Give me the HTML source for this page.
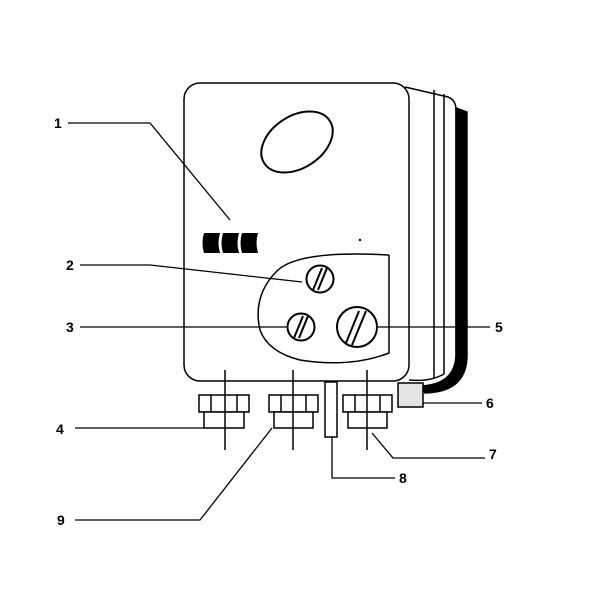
<!DOCTYPE html><html><head><style>body{margin:0;background:#fff}svg{display:block}text{font-family:"Liberation Sans",sans-serif;font-weight:bold;font-size:14px}</style></head><body>
<svg width="600" height="600" viewBox="0 0 600 600" fill="none" stroke="#000" stroke-width="1.5">
<!-- right side -->
<path d="M405 87 L448 97 Q456 100 456 110 L456 355" />
<path d="M456 108 L467 112 L467 355 Q467 392 425 393 L420 386 Q455 385 456 355 Z" fill="#000"/>
<line x1="434" y1="90" x2="434" y2="378"/>
<line x1="444" y1="94" x2="444" y2="374"/>
<path d="M409 380 Q430 382 444 374"/>
<!-- body -->
<rect x="184" y="83" width="225" height="298" rx="16" fill="#fff"/>
<ellipse cx="297" cy="142" rx="39" ry="26" transform="rotate(-33 297 142)" stroke-width="2"/>
<g fill="#000" stroke="none">
<path d="M204 233 h16 q-3 10 0 20 h-16 q-3 -10 0 -20z"/>
<path d="M223 233 h16 q-3 10 0 20 h-16 q-3 -10 0 -20z"/>
<path d="M242 233 h16 q-3 10 0 20 h-16 q-3 -10 0 -20z"/>
<circle cx="360" cy="240" r="1.2"/>
</g>
<path d="M389 255 L389 353 Q350 368 300 360 Q268 352 260 330 Q252 295 278 270 Q300 250 389 255" fill="#fff"/>
<g stroke-width="2">
<circle cx="320" cy="279" r="13.5"/><line x1="313" y1="290" x2="322" y2="268"/><line x1="318" y1="290" x2="327" y2="268"/>
<circle cx="301" cy="327" r="13.5"/><line x1="294" y1="338" x2="303" y2="316"/><line x1="299" y1="338" x2="308" y2="316"/>
<circle cx="357" cy="327" r="20"/><line x1="346" y1="343" x2="359" y2="311"/><line x1="352" y1="345" x2="366" y2="311"/>
</g>
<!-- glands -->
<g fill="#fff">
<rect x="199" y="395" width="50" height="17"/><rect x="204" y="412" width="40" height="16"/>
<line x1="211" y1="395" x2="211" y2="412"/><line x1="237" y1="395" x2="237" y2="412"/>
<rect x="269" y="395" width="49" height="17"/><rect x="274" y="412" width="39" height="16"/>
<line x1="281" y1="395" x2="281" y2="412"/><line x1="306" y1="395" x2="306" y2="412"/>
<rect x="343" y="395" width="49" height="17"/><rect x="348" y="412" width="39" height="16"/>
<line x1="355" y1="395" x2="355" y2="412"/><line x1="380" y1="395" x2="380" y2="412"/>
<rect x="325" y="382" width="12" height="55"/>
<rect x="398" y="383" width="25" height="24" fill="#e4e4e4"/>
</g>
<line x1="225" y1="370" x2="225" y2="450"/><line x1="293" y1="370" x2="293" y2="450"/><line x1="367" y1="370" x2="367" y2="450"/>
<line x1="199" y1="392" x2="409" y2="392" stroke-width="0"/>
<!-- leaders -->
<g stroke-width="1.3">
<polyline points="68,123 150,123 230,220"/>
<polyline points="80,265 150,265 302,282"/>
<line x1="80" y1="327" x2="287" y2="327"/>
<line x1="378" y1="327" x2="490" y2="327"/>
<line x1="423" y1="403" x2="482" y2="403"/>
<polyline points="372,433 393,458 485,458"/>
<polyline points="332,437 332,478 395,478"/>
<polyline points="272,428 200,520 75,520"/>
<line x1="75" y1="428" x2="204" y2="428"/>
</g>
<g fill="#000" stroke="none">
<text x="54" y="128">1</text><text x="66" y="270">2</text><text x="66" y="332">3</text>
<text x="56" y="434">4</text><text x="495" y="332">5</text><text x="486" y="408">6</text>
<text x="489" y="459">7</text><text x="399" y="483">8</text><text x="57" y="525">9</text>
</g>
</svg></body></html>
